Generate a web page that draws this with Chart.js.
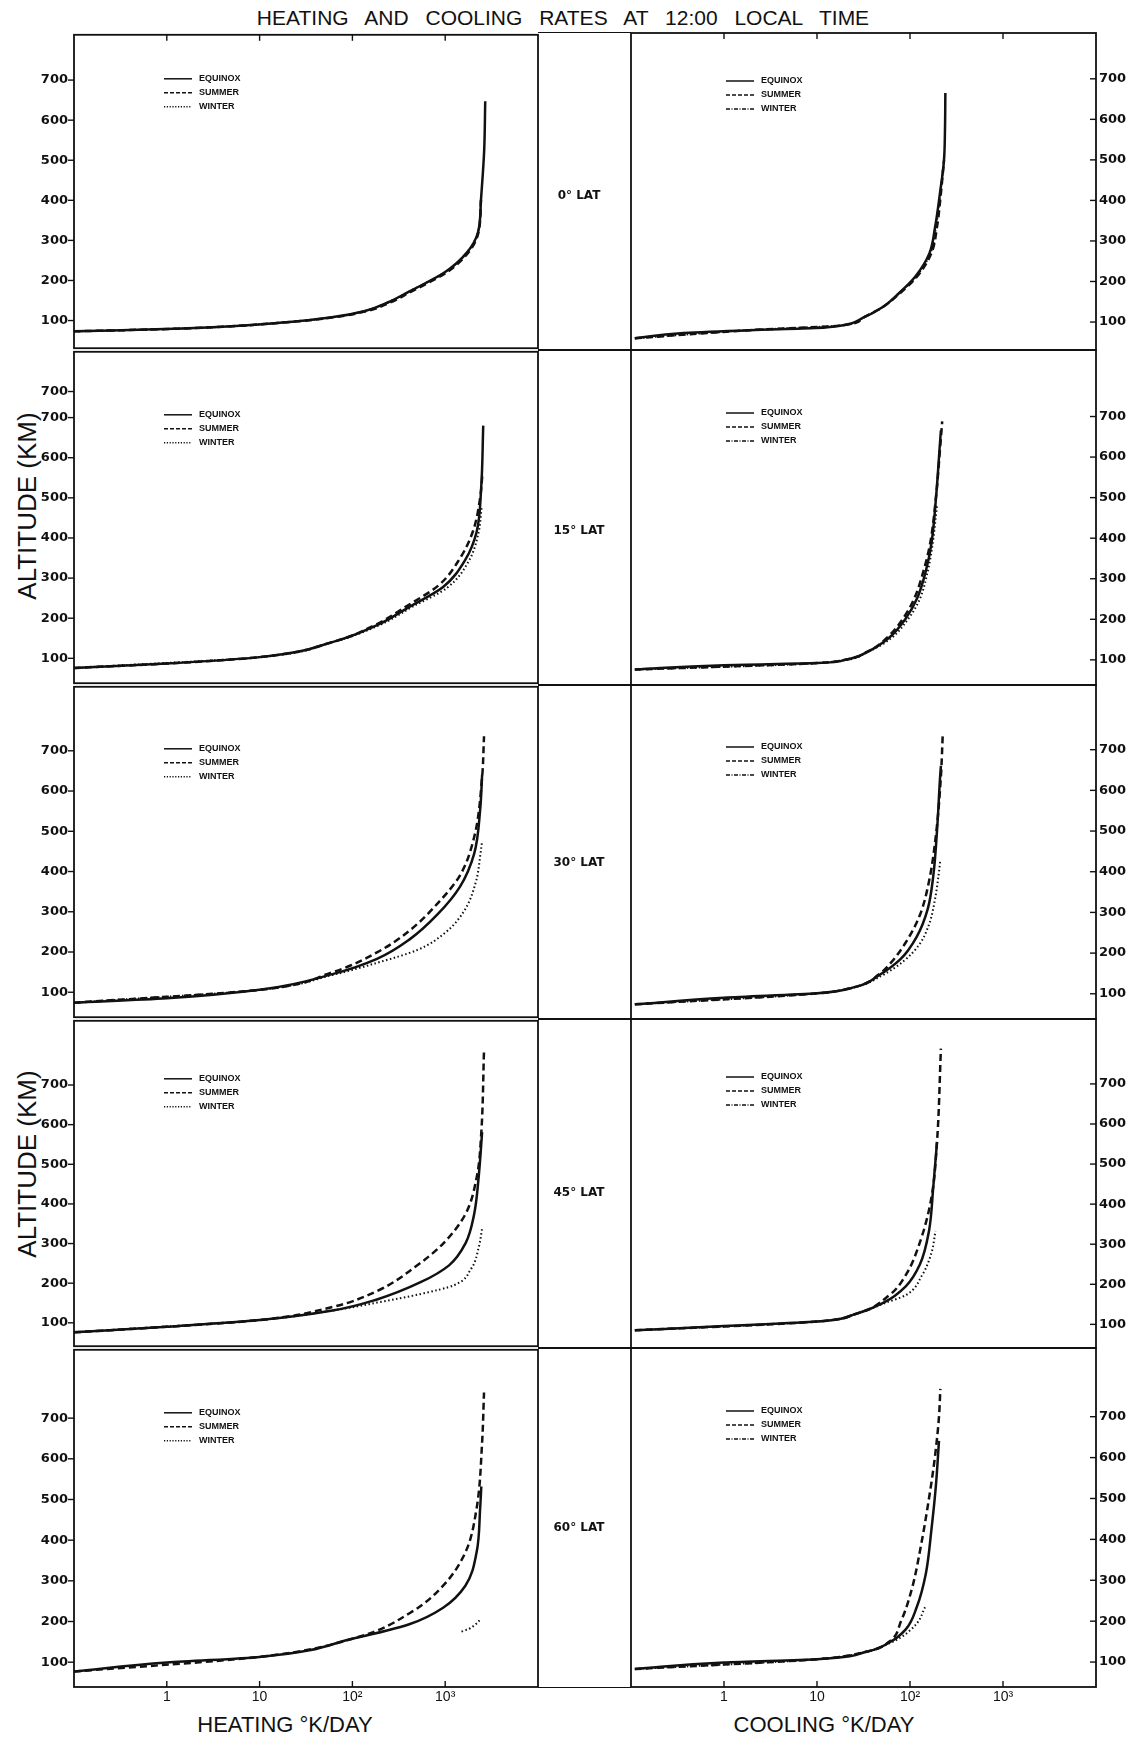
<!DOCTYPE html>
<html>
<head>
<meta charset="utf-8">
<script src="https://cdn.jsdelivr.net/npm/chart.js@4.4.1/dist/chart.umd.min.js"></script>
<style>
  body { margin: 0; background: #fff; width: 1144px; height: 1739px; position: relative; overflow: hidden;
         font-family: "Liberation Sans", Arial, sans-serif; color: #111; }
  canvas { position: absolute; }
  .txt { position: absolute; white-space: nowrap; transform: translate(-50%, -50%); }
  .strip { position: absolute; box-sizing: border-box; border-top: 1.5px solid #111; border-bottom: 1.5px solid #111; }
  .rot { transform: translate(-50%, -50%) rotate(-90deg); font-size: 26px; }
</style>
</head>
<body>
<div class="txt" style="left:563px;top:18px;font-size:21px;word-spacing:11px;">HEATING AND COOLING RATES AT 12:00 LOCAL TIME</div>
<div class="txt rot" style="left:27px;top:506px;">ALTITUDE (KM)</div>
<div class="txt rot" style="left:27px;top:1164px;">ALTITUDE (KM)</div>
<div class="txt" style="left:285px;top:1725px;font-size:22px;">HEATING °K/DAY</div>
<div class="txt" style="left:824px;top:1725px;font-size:22px;">COOLING °K/DAY</div>
<script>
// axis setup
const xMin = 0.1, xMax = 10000;
const xTickValues = [1, 10, 100, 1000];
const xTickLabels = ['1', '10', '10²', '10³'];
const altTickValues = [100, 200, 300, 400, 500, 600, 700];
const altTickLabels = ['100', '200', '300', '400', '500', '600', '700'];
// the 15 deg left axis has a second "700" printed above the first
const altTickValues15Left = [100, 200, 300, 400, 500, 600, 700, 765];
const altTickLabels15Left = ['100', '200', '300', '400', '500', '600', '700', '700'];
const altMin = [31, 38, 38, 41, 39];
const altMax = [813, 864, 859, 862, 868];
const latitudes = ['0° LAT', '15° LAT', '30° LAT', '45° LAT', '60° LAT'];
const seasons = ['EQUINOX', 'SUMMER', 'WINTER'];

// [rate °K/day, altitude km]
const heat0Equinox = [[0.1,73],[1.46,80],[22.5,97],[60,108],[137,124],[240,145],[398,171],[1000,221],[1720,270],[2250,319],[2430,401],[2630,524],[2700,647]];
const heat0Summer  = [[0.1,73],[1.46,80],[22.5,97],[62,108],[145,124],[255,145],[420,171],[1050,221],[1780,270],[2280,319],[2430,401]];
const heat0Winter  = [[0.1,73],[1.46,80],[22.5,97],[60,108],[137,124],[240,145],[398,171],[1000,221],[1720,270],[2250,319],[2430,401]];
const cool0Equinox = [[0.11,60],[0.37,73],[1.9,80],[9.7,85],[19,92],[31,110],[51,137],[76,171],[113,211],[162,270],[186,334],[210,418],[232,499],[238,581],[240,665]];
const cool0Summer  = [[0.11,60],[1.9,80],[19,92],[31,110],[51,137],[78,171],[118,211],[170,270],[195,334],[215,418],[232,499]];
const cool0Winter  = [[0.11,60],[1.9,80],[19,92],[31,110],[51,137],[76,171],[115,211],[166,270],[190,334],[212,418],[232,499]];

const heat15Equinox = [[0.1,76],[1,87],[10,103],[62,141],[182,182],[415,229],[950,278],[1650,346],[2180,415],[2440,524],[2570,680]];
const heat15Summer  = [[0.1,76],[1,87],[10,103],[62,141],[175,183],[390,231],[850,282],[1450,350],[2000,418],[2380,500],[2520,560]];
const heat15Winter  = [[0.1,76],[10,103],[62,141],[188,181],[440,228],[1050,276],[1800,343],[2280,412],[2480,480]];
const cool15Equinox = [[0.11,76],[1,87],[10,92],[20,100],[35,120],[60,155],[90,202],[119,251],[148,319],[170,387],[190,497],[210,634],[215,666]];
const cool15Summer  = [[0.11,76],[10,92],[20,100],[35,120],[58,157],[86,205],[112,253],[140,320],[165,388],[190,500],[212,630],[222,688]];
const cool15Winter  = [[0.11,76],[10,92],[35,120],[63,154],[95,200],[127,249],[155,318],[175,385],[195,480]];

const heat30Equinox = [[0.1,74],[1,85],[10,106],[61,145],[184,183],[417,232],[830,294],[1440,362],[2050,444],[2380,553],[2500,640]];
const heat30Summer  = [[0.1,74],[10,106],[61,150],[184,199],[417,254],[830,321],[1440,390],[2050,485],[2500,635],[2620,736]];
const heat30Winter  = [[0.1,74],[10,106],[61,143],[184,173],[500,205],[1000,248],[1600,302],[2150,376],[2400,444],[2480,470]];
const cool30Equinox = [[0.11,74],[1,90],[10,101],[26,117],[46,145],[79,185],[118,240],[155,308],[178,390],[195,499],[211,635],[215,660]];
const cool30Summer  = [[0.11,74],[10,101],[26,117],[46,147],[60,172],[90,226],[128,294],[160,376],[192,499],[215,635],[225,738]];
const cool30Winter  = [[0.11,74],[10,101],[26,117],[50,145],[85,180],[125,220],[160,270],[185,330],[205,400],[212,430]];

const heat45Equinox = [[0.1,76],[1,90],[10,107],[61,131],[184,159],[550,203],[1100,245],[1650,300],[2050,374],[2300,471],[2500,581]];
const heat45Summer  = [[0.1,76],[1,90],[10,107],[61,140],[184,180],[480,242],[950,300],[1650,374],[2200,471],[2450,581],[2620,788]];
const heat45Winter  = [[0.1,76],[10,107],[61,131],[184,151],[550,173],[1250,195],[1900,236],[2300,291],[2500,338]];
const cool45Equinox = [[0.11,85],[1,96],[10,107],[26,126],[52,154],[90,195],[128,250],[160,333],[178,443],[195,554]];
const cool45Summer  = [[0.11,85],[10,107],[26,126],[60,173],[90,223],[128,305],[170,416],[195,554],[215,788]];
const cool45Winter  = [[0.11,85],[10,107],[26,126],[52,152],[90,173],[135,223],[170,278],[188,333]];

const heat60Equinox = [[0.1,77],[1,99],[10,113],[105,159],[417,194],[950,234],[1650,288],[2180,370],[2380,478],[2450,532]];
const heat60Summer  = [[0.1,77],[10,113],[105,159],[417,221],[950,288],[1650,370],[2180,478],[2500,641],[2620,763]];
const heat60Winter  = [[1500,175],[1800,182],[2100,192],[2400,205]];
const cool60Equinox = [[0.11,83],[1,99],[10,107],[35,126],[60,148],[90,180],[118,234],[148,316],[170,424],[190,532],[205,641]];
const cool60Summer  = [[0.11,83],[10,107],[35,126],[60,150],[80,200],[105,280],[130,380],[160,500],[185,600],[205,700],[212,768]];
const cool60Winter  = [[0.11,83],[10,107],[35,126],[60,146],[78,159],[118,194],[145,234]];

// page layout
const rowTop = [33, 350, 685, 1019, 1348];
const rowBottom = [350, 685, 1019, 1348, 1687];
const leftEdge = 74, midLeft = 538, midRight = 631, rightEdge = 1096;
const PAD = 12;
const keyDy = { left: [44, 63, 62, 58, 63], right: [48, 63, 62, 58, 63] };

const styles = [
  { borderWidth: 2.5, borderDash: [] },
  { borderWidth: 2.5, borderDash: [7, 4] },
  { borderWidth: 2.0, borderDash: [1.5, 2.5] }
];

Chart.register({
  id: 'frame',
  afterDraw(chart, args, o) {
    const { ctx, chartArea: a, scales } = chart;
    ctx.save();
    ctx.strokeStyle = '#111';
    ctx.lineWidth = 1.8;
    ctx.strokeRect(a.left, a.top, a.right - a.left, a.bottom - a.top);
    ctx.lineWidth = 1.4;
    scales.y.ticks.forEach(t => {
      const py = scales.y.getPixelForValue(t.value);
      ctx.beginPath();
      if (o.side === 'left') { ctx.moveTo(a.left - 6, py); ctx.lineTo(a.left, py); }
      else { ctx.moveTo(a.right - 6, py); ctx.lineTo(a.right, py); }
      ctx.stroke();
    });
    if (o.xTicks) {
      xTickValues.forEach(v => {
        const px = scales.x.getPixelForValue(v);
        ctx.beginPath();
        if (o.xTicks === 'top') { ctx.moveTo(px, a.top); ctx.lineTo(px, a.top + 6); }
        else { ctx.moveTo(px, a.bottom); ctx.lineTo(px, a.bottom - 6); }
        ctx.stroke();
      });
    }
    ctx.restore();
  }
});

Chart.register({
  id: 'seasonKey',
  afterDraw(chart, args, o) {
    const { ctx, chartArea: a } = chart;
    ctx.save();
    ctx.strokeStyle = '#111';
    ctx.fillStyle = '#111';
    ctx.font = 'bold 9px "Liberation Sans", Arial, sans-serif';
    ctx.textBaseline = 'middle';
    chart.data.datasets.forEach((ds, i) => {
      const y = a.top + o.dy + i * 14;
      const x = a.left + o.dx;
      ctx.lineWidth = 1.5;
      ctx.setLineDash(i === 2 && o.side === 'right' ? [4, 1.5, 1, 1.5] : (i === 2 ? [1.2, 1.6] : (i === 1 ? [4, 2] : [])));
      ctx.beginPath(); ctx.moveTo(x, y); ctx.lineTo(x + 28, y); ctx.stroke();
      ctx.setLineDash([]);
      ctx.fillText(ds.label, x + 35, y);
    });
    ctx.restore();
  }
});

const panels = [
  { row: 0, side: 'left',  series: [heat0Equinox, heat0Summer, heat0Winter] },
  { row: 0, side: 'right', series: [cool0Equinox, cool0Summer, cool0Winter] },
  { row: 1, side: 'left',  series: [heat15Equinox, heat15Summer, heat15Winter] },
  { row: 1, side: 'right', series: [cool15Equinox, cool15Summer, cool15Winter] },
  { row: 2, side: 'left',  series: [heat30Equinox, heat30Summer, heat30Winter] },
  { row: 2, side: 'right', series: [cool30Equinox, cool30Summer, cool30Winter] },
  { row: 3, side: 'left',  series: [heat45Equinox, heat45Summer, heat45Winter] },
  { row: 3, side: 'right', series: [cool45Equinox, cool45Summer, cool45Winter] },
  { row: 4, side: 'left',  series: [heat60Equinox, heat60Summer, heat60Winter] },
  { row: 4, side: 'right', series: [cool60Equinox, cool60Summer, cool60Winter] }
];

function makePanel(p) {
  const isLast = p.row === 4;
  const isLeft = p.side === 'left';
  const top = rowTop[p.row] - PAD;
  const bottom = isLast ? 1739 : rowBottom[p.row] + PAD;
  const left = isLeft ? 0 : midRight - PAD;
  const width = isLeft ? midLeft + PAD : 1144 - left;
  const c = document.createElement('canvas');
  c.width = width;
  c.height = bottom - top;
  c.style.left = left + 'px';
  c.style.top = top + 'px';
  document.body.appendChild(c);

  const tv = (p.row === 1 && isLeft) ? altTickValues15Left : altTickValues;
  const tl = (p.row === 1 && isLeft) ? altTickLabels15Left : altTickLabels;

  const xScale = {
    type: 'logarithmic', min: xMin, max: xMax, display: isLast,
    afterBuildTicks: s => { s.ticks = xTickValues.map(v => ({ value: v })); },
    grid: { display: false, drawTicks: false }, border: { display: false },
    ticks: { autoSkip: false, maxRotation: 0, padding: 2, color: '#111',
             font: { family: 'Liberation Sans', size: 14 },
             callback: (v, i) => xTickLabels[i] }
  };
  if (isLast) xScale.afterFit = s => { s.height = 1739 - rowBottom[4]; };

  new Chart(c, {
    type: 'line',
    data: {
      datasets: p.series.map((d, i) => ({
        label: seasons[i],
        data: d.map(([x, y]) => ({ x, y })),
        borderColor: '#111',
        borderWidth: styles[i].borderWidth,
        borderDash: styles[i].borderDash,
        pointRadius: 0,
        cubicInterpolationMode: 'monotone',
        fill: false
      }))
    },
    options: {
      indexAxis: 'y',
      responsive: false,
      animation: false,
      events: [],
      layout: { padding: { top: PAD, bottom: isLast ? 0 : PAD, left: isLeft ? 0 : PAD, right: isLeft ? PAD : 0 } },
      plugins: {
        legend: { display: false },
        tooltip: { enabled: false },
        frame: { side: p.side, xTicks: p.row === 0 ? 'top' : (isLast ? 'bottom' : null) },
        seasonKey: { side: p.side, dx: isLeft ? 90 : 95, dy: keyDy[p.side][p.row] }
      },
      scales: {
        x: xScale,
        y: {
          type: 'linear', position: p.side, min: altMin[p.row], max: altMax[p.row],
          afterBuildTicks: s => { s.ticks = tv.map(v => ({ value: v })); },
          afterFit: s => { s.width = isLeft ? leftEdge : 1144 - rightEdge; },
          grid: { display: false, drawTicks: false }, border: { display: false },
          ticks: { autoSkip: false, padding: isLeft ? 6 : 3, color: '#111',
                   font: { family: 'DejaVu Sans', size: 13, weight: 'bold' },
                   callback: (v, i) => tl[i] }
        }
      }
    }
  });
}

panels.forEach(makePanel);

// centre strip with latitude labels
latitudes.forEach((lat, r) => {
  const s = document.createElement('div');
  s.className = 'strip';
  s.style.left = midLeft + 'px';
  s.style.width = (midRight - midLeft) + 'px';
  s.style.top = (rowTop[r] - 0.75) + 'px';
  s.style.height = (rowBottom[r] - rowTop[r] + 1.5) + 'px';
  document.body.appendChild(s);
  const t = document.createElement('div');
  t.className = 'txt';
  t.style.left = '579px';
  t.style.top = (rowTop[r] + [162, 180, 177, 173, 179][r]) + 'px';
  t.style.font = 'bold 12px "DejaVu Sans", sans-serif';
  t.textContent = lat;
  document.body.appendChild(t);
});
</script>
</body>
</html>
